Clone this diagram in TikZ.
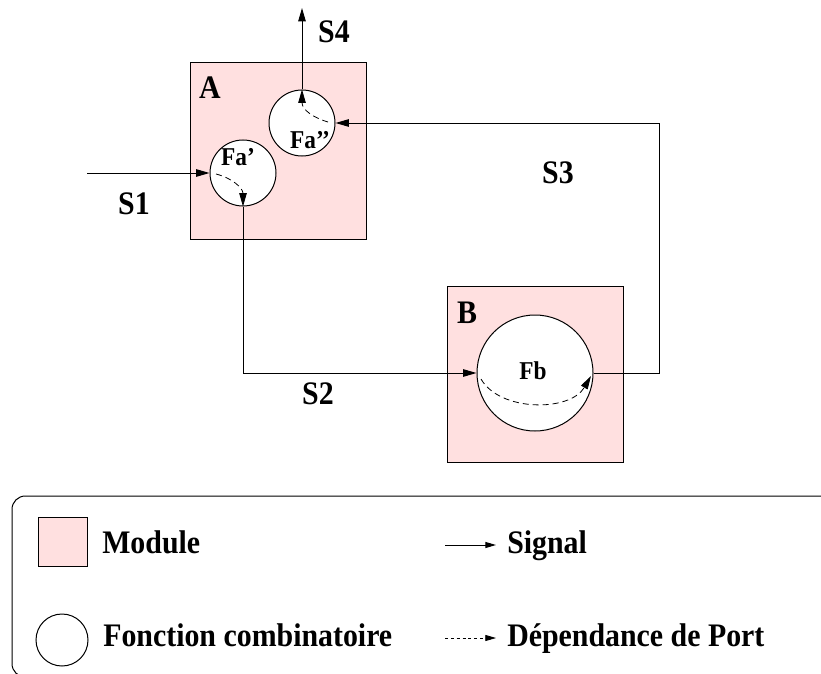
\documentclass[tikz,border=0pt]{standalone}
\usepackage{fontspec}
\usepackage{graphicx}
\setmainfont{Liberation Serif}
\usetikzlibrary{arrows.meta}
\definecolor{modpink}{RGB}{255,224,224}
\newcommand\bigtxt[1]{\scalebox{1}[1.1]{\fontsize{22.4}{25}\selectfont\bfseries #1}}
\newcommand\smalltxt[1]{\scalebox{1}[1.1]{\fontsize{17.5}{20}\selectfont\bfseries #1}}
\tikzset{
  modbox/.style={draw=black, fill=modpink, line width=0.75pt, minimum width=132pt, minimum height=132pt, inner sep=0pt},
  fcircle/.style={draw=black, fill=white, circle, line width=0.75pt, inner sep=0pt},
  sig/.style={-{Triangle[length=10pt,width=5.6pt]}, line width=0.75pt},
  dep/.style={-{Triangle[length=10pt,width=5.6pt]}, line width=0.6pt, dash pattern=on 4.5pt off 3pt},
  lsig/.style={-{Triangle[length=8pt,width=4.5pt]}, line width=0.75pt},
  ldep/.style={-{Triangle[length=8pt,width=4.5pt]}, line width=0.6pt, dash pattern=on 2.2pt off 2.2pt},
  lbl/.style={inner sep=0pt},
}
\begin{document}
\begin{tikzpicture}[x=0.75pt,y=-0.75pt]
\useasboundingbox (0,0) rectangle (821,674);
\clip (0,0) rectangle (821,674);
% modules
\node[modbox] (A) at (278,151) {};
\node[modbox] (B) at (535,374) {};
\node[lbl] (Alab) at (210,88) {\bigtxt{A}};
\node[lbl] (Blab) at (467,313) {\bigtxt{B}};
% combinational functions
\node[fcircle, minimum size=49.5pt] (fa1) at (243,173) {};
\node[fcircle, minimum size=49.5pt] (fa2) at (302,123) {};
\node[fcircle, minimum size=87pt] (fb) at (535,373) {};
\node[lbl] (fa1lab) at (238,157) {\smalltxt{Fa'}};
\node[lbl] (fa2lab) at (310,140) {\smalltxt{Fa'{}'}};
\node[lbl] (fblab) at (533,371) {\smalltxt{Fb}};
% port dependencies
\draw[dep] (216,174) .. controls (232,178) and (243,188) .. (fa1.south);
\draw[dep] (328,122) .. controls (314,118) and (302,110) .. (fa2.north);
\draw[dep] (481,379) .. controls (500,412) and (570,412) .. (591,376);
% signals
\coordinate (s1start) at (87,173);
\coordinate (s4end) at (302,8);
\draw[sig] (s1start) -- (fa1.west);
\draw[sig] (fa1.south) |- (fb.west);
\draw[sig] (fb.east) -- ++(66,0) |- (fa2.east);
\draw[sig] (fa2.north) -- (s4end);
\node[lbl] (S1) at (134,204) {\bigtxt{S1}};
\node[lbl] (S2) at (318,394) {\bigtxt{S2}};
\node[lbl] (S3) at (558,173) {\bigtxt{S3}};
\node[lbl] (S4) at (334,32) {\bigtxt{S4}};
% legend
\draw[line width=0.75pt, rounded corners=10pt] (12,496) rectangle (870,677);
\node[draw=black, fill=modpink, line width=0.75pt, minimum size=36.75pt, inner sep=0pt] (lmod) at (62.5,541.5) {};
\node[fcircle, minimum size=39pt] (lfc) at (62,640) {};
\node[lbl, anchor=base west] (lmodt) at (102,553) {\bigtxt{Module}};
\node[lbl, anchor=base west] (lfct) at (103,646) {\bigtxt{Fonction combinatoire}};
\coordinate (ls1) at (445,545);
\coordinate (ls2) at (496,545);
\coordinate (ld1) at (445,638);
\coordinate (ld2) at (496,638);
\draw[lsig] (ls1) -- (ls2);
\draw[ldep] (ld1) -- (ld2);
\node[lbl, anchor=base west] (lsigt) at (507,553) {\bigtxt{Signal}};
\node[lbl, anchor=base west] (ldept) at (507,646) {\bigtxt{Dépendance de Port}};
\end{tikzpicture}
\end{document}
